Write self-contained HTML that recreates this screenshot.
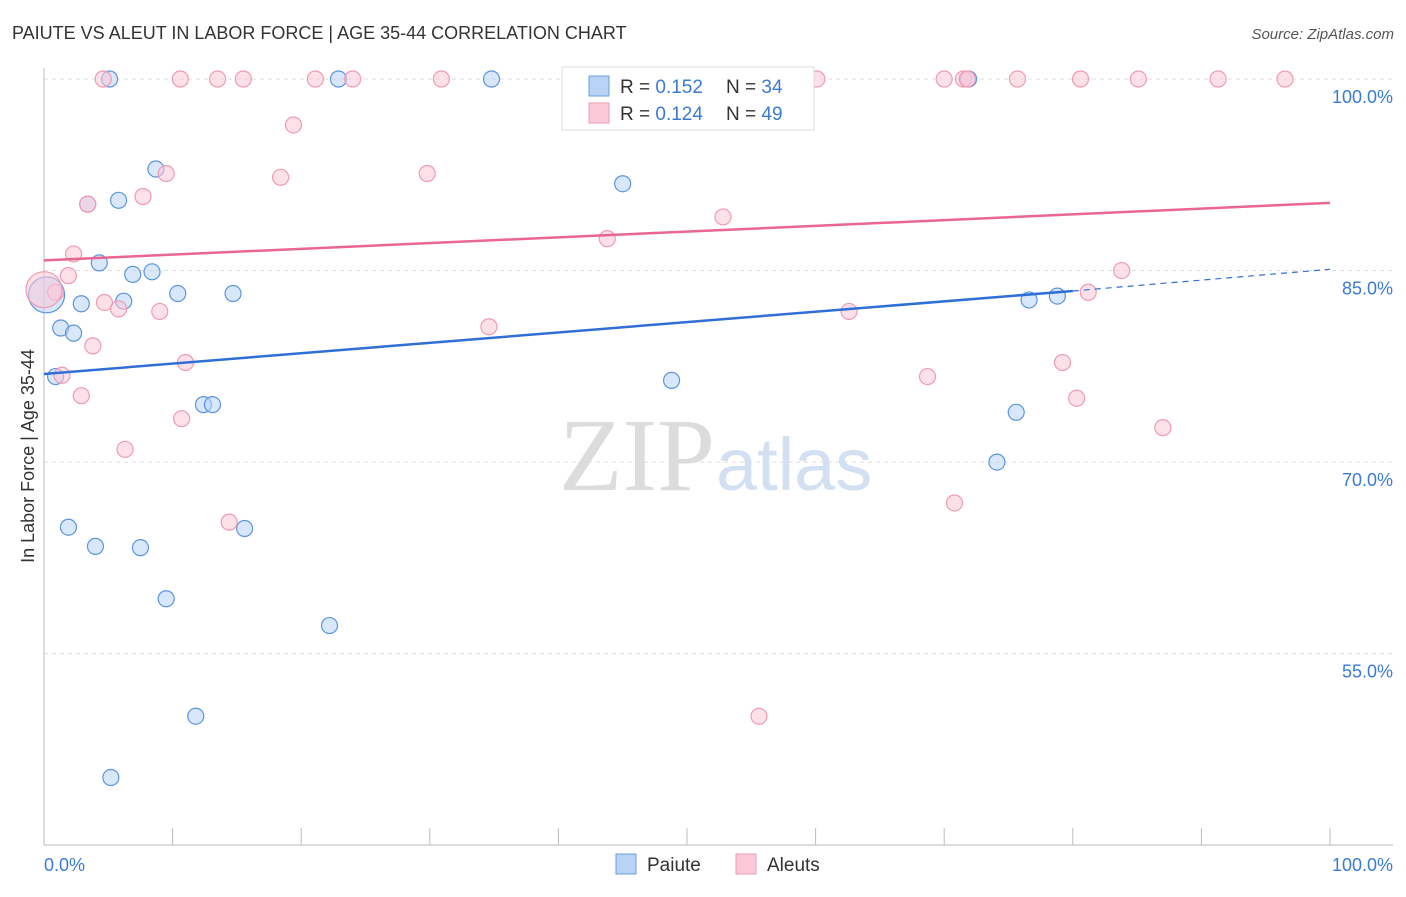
<!DOCTYPE html>
<html><head><meta charset="utf-8"><style>
body{margin:0;background:#fff;font-family:"Liberation Sans",sans-serif}
</style></head><body>
<svg width="1406" height="892" xmlns="http://www.w3.org/2000/svg" font-family="Liberation Sans, sans-serif">
<text x="12" y="39" font-size="18" fill="#333">PAIUTE VS ALEUT IN LABOR FORCE | AGE 35-44 CORRELATION CHART</text>
<text x="1394" y="39" font-size="15" fill="#555" font-style="italic" text-anchor="end">Source: ZipAtlas.com</text>
<text x="34" y="456" font-size="18" fill="#333" transform="rotate(-90 34 456)" text-anchor="middle">In Labor Force | Age 35-44</text>
<g id="grid"></g>
<text x="715" y="490" font-size="104" fill="#dcdcdc" text-anchor="end" font-family="Liberation Serif, serif">ZIP</text>
<text x="716" y="490" font-size="74" fill="#d3e0f2">atlas</text>
<g id="marks"></g>
<g>
<rect x="562" y="67" width="252" height="63" fill="#fff" stroke="#ddd"/>
<rect x="589" y="76" width="20" height="20" fill="#b8d3f5" stroke="#6a9ee0"/>
<rect x="589" y="103" width="20" height="20" fill="#fbc9d7" stroke="#ef9ab3"/>
<text x="620" y="93" font-size="19" fill="#333">R = <tspan fill="#3a7bd5">0.152</tspan></text>
<text x="726" y="93" font-size="19" fill="#333">N = <tspan fill="#3a7bd5">34</tspan></text>
<text x="620" y="120" font-size="19" fill="#333">R = <tspan fill="#3a7bd5">0.124</tspan></text>
<text x="726" y="120" font-size="19" fill="#333">N = <tspan fill="#3a7bd5">49</tspan></text>
</g>
<g>
<rect x="616" y="854" width="20" height="20" fill="#b8d3f5" stroke="#6a9ee0"/>
<text x="647" y="871" font-size="19" fill="#333">Paiute</text>
<rect x="736" y="854" width="20" height="20" fill="#fbc9d7" stroke="#ef9ab3"/>
<text x="767" y="871" font-size="19" fill="#333">Aleuts</text>
</g>
<text x="44" y="871" font-size="18" fill="#3a7bd5">0.0%</text>
<text x="1393" y="871" font-size="18" fill="#3a7bd5" text-anchor="end">100.0%</text>
</svg>
<script>
const yTicks=[100,85,70,55];
const yTickLabels=["100.0%","85.0%","70.0%","55.0%"];
const xTicks=[0,10,20,30,40,50,60,70,80,90,100];
const paiuteX=[5.1,22.9,34.8,71.9,8.7,5.8,3.4,4.3,6.9,8.4,10.4,14.7,2.9,6.2,1.3,2.3,0.9,0.2,45.0,48.8,12.4,13.1,75.6,74.1,1.9,4.0,7.5,15.6,9.5,22.2,11.8,5.2,76.6,78.8];
const paiuteY=[100,100,100,100,92.95,90.5,90.2,85.6,84.7,84.9,83.2,83.2,82.4,82.6,80.5,80.1,76.7,83.1,91.8,76.4,74.5,74.5,73.9,70.0,64.9,63.4,63.3,64.8,59.3,57.2,50.1,45.3,82.7,83.0];
const aleutX=[4.6,10.6,13.5,15.5,21.1,24.0,30.9,56.5,60.1,70.0,71.5,71.8,75.7,80.6,85.1,91.3,96.5,19.4,9.5,18.4,29.8,7.7,3.4,52.8,43.8,2.3,1.9,0.9,0.0,4.7,5.8,9.0,62.6,83.8,81.2,34.6,3.8,11.0,79.2,1.4,2.9,68.7,80.3,10.7,6.3,87.0,14.4,70.8,55.6];
const aleutY=[100,100,100,100,100,100,100,100,100,100,100,100,100,100,100,100,100,96.4,92.6,92.3,92.6,90.8,90.2,89.2,87.5,86.3,84.6,83.3,83.5,82.5,82.0,81.8,81.8,85.0,83.3,80.6,79.1,77.8,77.8,76.8,75.2,76.7,75.0,73.4,71.0,72.7,65.3,66.8,50.1];
const paiuteTrend=[76.9,83.4,85.1]; // at x=0, 80, 100
const aleutTrend=[85.8,90.3]; // at x=0, 100
const NS="http://www.w3.org/2000/svg";
const sx=v=>44+v*12.86, sy=v=>79+(100-v)*12.77;
function mk(t,a,p){const e=document.createElementNS(NS,t);for(const k in a)e.setAttribute(k,a[k]);p.appendChild(e);return e;}
const grid=document.getElementById('grid'), marks=document.getElementById('marks');
yTicks.forEach((t,i)=>{
 const l=mk('line',{x1:44,x2:1393,y1:sy(t),y2:sy(t),stroke:'#ddd','stroke-dasharray':'4,4'},grid);
 
 
 const tx=mk('text',{x:1393,y:sy(t)+24,'text-anchor':'end','font-size':18,fill:'#3a7bd5'},grid);
 tx.textContent=yTickLabels[i];
 
 
});
mk('line',{x1:44,x2:44,y1:68,y2:845,stroke:'#bbb'},grid);
mk('line',{x1:44,x2:1393,y1:845,y2:845,stroke:'#bbb'},grid);
xTicks.forEach(t=>{const l=mk('line',{x1:sx(t),x2:sx(t),y1:828,y2:845,stroke:'#bbb'},grid);
 
 });
function dots(X,Y,fill,stroke,name){X.forEach((x,i)=>{
 const big=x<0.5;
 const c=mk('circle',{cx:sx(x),cy:sy(Y[i]),r:big?18:8,fill:fill,'fill-opacity':0.55,stroke:stroke,'stroke-width':1.2},marks);
 
 });}
dots(paiuteX,paiuteY,'#b8d3f5','#5b95e0','paiute-point');
dots(aleutX,aleutY,'#fbc9d7','#ef9ab3','aleut-point');
let l=mk('line',{x1:sx(0),y1:sy(paiuteTrend[0]),x2:sx(80),y2:sy(paiuteTrend[1]),stroke:'#2f6fd6','stroke-width':2.5},marks);


l=mk('line',{x1:sx(80),y1:sy(paiuteTrend[1]),x2:sx(100),y2:sy(paiuteTrend[2]),stroke:'#2f6fd6','stroke-width':1.2,'stroke-dasharray':'6,5'},marks);


l=mk('line',{x1:sx(0),y1:sy(aleutTrend[0]),x2:sx(100),y2:sy(aleutTrend[1]),stroke:'#e8668f','stroke-width':2.5},marks);


</script>
</body></html>
